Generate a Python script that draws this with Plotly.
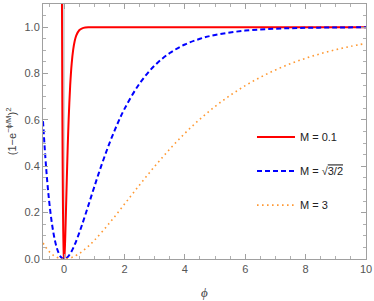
import plotly.graph_objects as go

# M = 0.1
x_red = [-0.1, -0.08, -0.06, -0.05, -0.04, -0.03, -0.02, -0.01, 0.0, 0.01, 0.02, 0.03, 0.04, 0.05,
         0.06, 0.08, 0.1, 0.12, 0.15, 0.2, 0.25, 0.3, 0.35, 0.4, 0.5, 0.6, 0.7, 0.8, 1.0, 2.0, 10.0]
y_red = [2.952, 1.502, 0.676, 0.4208, 0.2419, 0.1224, 0.0490, 0.01107, 0.0, 0.00906, 0.0329, 0.0672,
         0.1087, 0.1548, 0.2036, 0.3033, 0.3996, 0.4883, 0.6035, 0.7477, 0.8426, 0.9029, 0.9405,
         0.9637, 0.98657, 0.99505, 0.99818, 0.99933, 0.99991, 1.0, 1.0]

# M = sqrt(3/2)
x_blue = [-0.7, -0.6, -0.5, -0.4, -0.3, -0.2, -0.1, 0.0, 0.1, 0.2, 0.3, 0.4, 0.5, 0.6, 0.8, 1.0,
          1.25, 1.5, 1.75, 2.0, 2.5, 3.0, 3.5, 4.0, 4.5, 5.0, 6.0, 7.0, 8.0, 9.0, 10.0]
y_blue = [0.5946, 0.3996, 0.2542, 0.1492, 0.0771, 0.0315, 0.00724, 0.0, 0.00615, 0.0227, 0.0472,
          0.0776, 0.1124, 0.1500, 0.2300, 0.3114, 0.4091, 0.4987, 0.5782, 0.6475, 0.7571, 0.8348,
          0.8885, 0.9252, 0.9499, 0.9665, 0.9852, 0.9934, 0.9971, 0.99871, 0.99943]

# M = 3
x_orange = [-0.7, -0.5, -0.3, -0.1, 0.0, 0.25, 0.5, 0.75, 1.0, 1.5, 2.0, 2.5, 3.0, 3.5, 4.0, 4.5,
            5.0, 5.5, 6.0, 6.5, 7.0, 7.5, 8.0, 8.5, 9.0, 9.5, 10.0]
y_orange = [0.0691, 0.0329, 0.01107, 0.00115, 0.0, 0.0064, 0.0236, 0.0489, 0.0804, 0.1548, 0.2368,
            0.3197, 0.3996, 0.4742, 0.5423, 0.6035, 0.6580, 0.7058, 0.7477, 0.7840, 0.8154, 0.8426,
            0.8658, 0.8858, 0.9029, 0.9175, 0.9299]

labels = ["M = 0.1", "M = √<span style='text-decoration:overline'>3/2</span>", "M = 3"]
x_title = "<i>ϕ</i>"
y_title = "(1−e<sup>−ϕ/M</sup>)<sup>2</sup>"

fig = go.Figure()
fig.add_trace(go.Scatter(x=x_red, y=y_red, mode="lines", name=labels[0], legendgroup="a",
                         line=dict(color="#FF0000", width=2, shape="spline", smoothing=0.8)))
fig.add_trace(go.Scatter(x=x_blue, y=y_blue, mode="lines", name=labels[1], legendgroup="b",
                         line=dict(color="#0000FF", width=2, dash="5px,3px", shape="spline")))
fig.add_trace(go.Scatter(x=x_orange, y=y_orange, mode="lines", name=labels[2], legendgroup="c",
                         line=dict(color="#FF9933", width=1.6, dash="1.6px,3.4px", shape="spline")))

axis_common = dict(
    showgrid=False, showline=True, linecolor="#A0A0A0", linewidth=1, mirror="ticks",
    ticks="inside", ticklen=5, tickcolor="#A0A0A0", tickwidth=1, automargin=False,
    tickfont=dict(family="Liberation Sans, Arial", size=11, color="#555555"),
    zeroline=True, zerolinecolor="#D8D8D8", zerolinewidth=2,
    minor=dict(ticks="inside", ticklen=3, tickcolor="#B0B0B0", showgrid=False),
)

fig.update_xaxes(range=[-0.7, 10.0001], dtick=2, tick0=0, minor_dtick=0.5, **axis_common)
fig.update_yaxes(range=[0, 1.1], dtick=0.2, tick0=0, tickformat=".1f", minor_dtick=0.05, **axis_common)

fig.add_annotation(text=x_title, xref="paper", yref="paper", x=0.5, y=-0.13,
                   xanchor="center", yanchor="middle", showarrow=False,
                   font=dict(family="Liberation Serif, serif", size=13, color="#444444"))
fig.add_annotation(text=y_title, xref="paper", yref="paper", x=-0.1, y=0.5, textangle=-90,
                   xanchor="center", yanchor="middle", showarrow=False,
                   font=dict(family="Liberation Sans, Arial", size=11, color="#444444"))

fig.update_layout(
    width=374, height=301,
    margin=dict(l=43, r=8, t=4, b=42),
    plot_bgcolor="white", paper_bgcolor="white",
    legend=dict(x=0.647, y=0.535, xanchor="left", yanchor="top", bgcolor="rgba(0,0,0,0)",
                font=dict(family="Liberation Sans, Arial", size=11, color="#222222"),
                tracegroupgap=15, itemwidth=38),
    showlegend=True,
)

fig.write_html("out.html", config={"displayModeBar": False},
               post_script="document.body.style.margin='0';")
